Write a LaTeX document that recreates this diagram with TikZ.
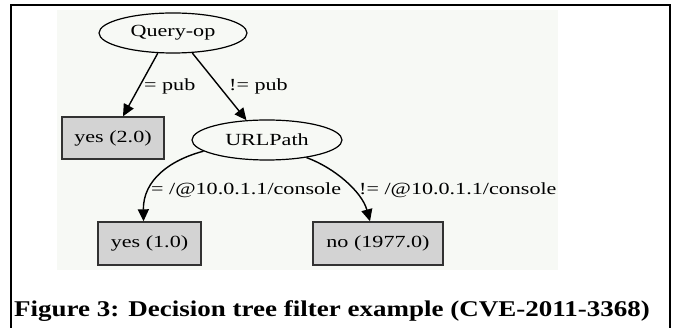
\documentclass[tikz,border=0pt]{standalone}
\usepackage{fontspec}
\setmainfont{Liberation Serif}
\usepackage{graphicx}
\usetikzlibrary{shapes.geometric,arrows.meta,calc}
\definecolor{panelbg}{RGB}{247,249,245}
\definecolor{leafgray}{RGB}{211,211,211}
\definecolor{leafline}{RGB}{50,50,50}
\newcommand\dtx[1]{\scalebox{1.3}[1]{#1}}
\begin{document}
\begin{tikzpicture}[x=1pt,y=-1pt,
  dtfont/.style={font=\fontsize{17}{20}\selectfont},
  oval/.style={ellipse,draw=black,line width=1.2pt,minimum width=148pt,minimum height=40pt,inner sep=0pt,dtfont},
  leaf/.style={rectangle,draw=leafline,fill=leafgray,line width=1.4pt,minimum height=43pt,inner sep=0pt,dtfont},
  dtedge/.style={line width=1.4pt,-{Triangle[length=12pt,width=11pt]}},
  elabel/.style={inner sep=0pt,anchor=base west,dtfont}]
\useasboundingbox (0,0) rectangle (673,328);
\fill[white] (0,0) rectangle (673,328);
\fill[panelbg] (57,10) rectangle (558,270);
\draw[line width=2pt] (11,328) -- (11,5.5) -- (670,5.5) -- (670,328);

\node[oval] (q) at (173,33) {\dtx{Query-op}};
\node[leaf,minimum width=102pt,minimum height=42pt] (y2) at (113,138) {\dtx{yes (2.0)}};
\node[oval,minimum width=150pt] (u) at (267,140) {\dtx{URLPath}};
\node[leaf,minimum width=103pt] (y1) at (149.5,243.5) {\dtx{yes (1.0)}};
\node[leaf,minimum width=130pt] (no) at (378,243.5) {\dtx{no (1977.0)}};

\draw[dtedge] (q.233) -- ($(y2.north)+(10,0)$);
\draw[dtedge] (q.314) -- (u.136);
\draw[dtedge] (u.190) .. controls (170,160) and (143,180) .. ($(y1.north)+(-6,0)$);
\draw[dtedge] (u.336) .. controls (335,168) and (362,192) .. ($(no.north)+(-8,0)$);

\node[elabel] (l1) at (144,90.5) {\dtx{= pub}};
\node[elabel] (l2) at (229,90.5) {\dtx{!= pub}};
\node[elabel] (l3) at (151,195) {\dtx{= /@10.0.1.1/console}};
\node[elabel] (l4) at (359,195) {\dtx{!= /@10.0.1.1/console}};

\node[inner sep=0pt,anchor=base west,font=\bfseries\fontsize{22.5}{26}\selectfont] (cap) at (14,317)
  {\scalebox{1.2}[1]{Figure 3: Decision tree filter example (CVE-2011-3368)}};
\end{tikzpicture}
\end{document}
